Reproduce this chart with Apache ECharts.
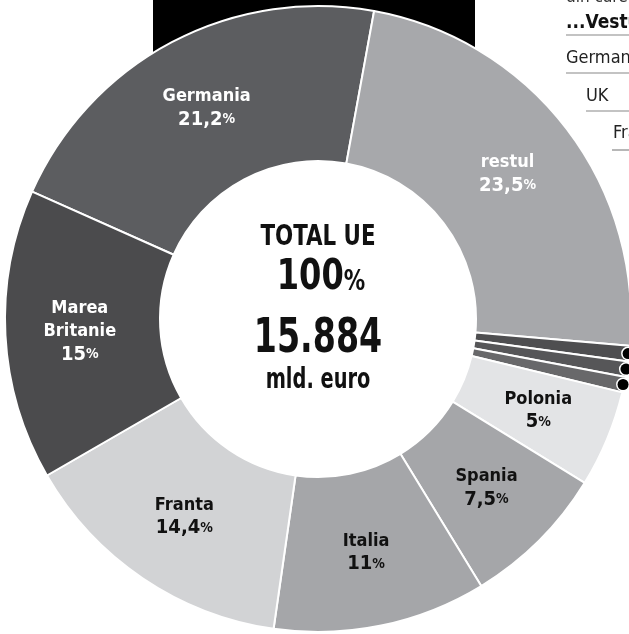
<!DOCTYPE html>
<html>
<head>
<meta charset="utf-8">
<script src="https://cdn.jsdelivr.net/npm/echarts@6/dist/echarts.min.js"></script>
<style>
  html, body { margin: 0; padding: 0; background: #fff; }
  #chart { width: 629px; height: 634px; }
</style>
</head>
<body>
<div id="chart"></div>
<script>
// date: cota fiecarei tari din total UE (%)
const tari = ['Germania', 'restul', 'mic1', 'mic2', 'mic3', 'Polonia', 'Spania', 'Italia', 'Franta', 'Marea\nBritanie']
const procente = [21.2, 23.5, 0.8, 0.8, 0.8, 5, 7.5, 11, 14.4, 15]
const culori = ['#5c5d60', '#a7a8ab', '#4e4e50', '#565658', '#68686a', '#e3e4e6', '#a5a6a9', '#a5a6a9', '#d2d3d5', '#4b4b4d']
const culoriText = ['#fff', '#fff', '', '', '', '#111', '#111', '#111', '#111', '#fff']
const fara = ['mic1', 'mic2', 'mic3'] // felii mici, fara eticheta, doar cu punct

const totalText = ['TOTAL UE', '100', '15.884', 'mld. euro']
const tabel = ['din care', '...Vestu', 'German', 'UK', 'Fra']

const FONT = "'DejaVu Sans Condensed', 'Liberation Sans Narrow', sans-serif"
const CENTRU = [318, 319]

const chart = echarts.init(document.getElementById('chart'))

const dateFelii = tari.map((name, i) => ({
  name,
  value: procente[i],
  itemStyle: {color: culori[i]},
  label: fara.includes(name) ? {show: false} : {show: true, color: culoriText[i]}
}))

// serie suprapusa doar pentru punctele negre de la feliile mici
const datePuncte = tari.map((name, i) => ({
  name,
  value: procente[i],
  label: {show: fara.includes(name)}
}))

const textCentru = (text, y, size, sx) => ({
  type: 'text', z: 10, x: 318, y, scaleX: sx,
  style: {text, x: 0, y: 0, align: 'center', verticalAlign: 'middle', font: `bold ${size}px ` + FONT, fill: '#111'}
})

const option = {
  animation: false,
  graphic: [
    {type: 'rect', z: 0, shape: {x: 153, y: 0, width: 322, height: 54}, style: {fill: '#000'}},
    // textul din dreapta sus (alt grafic, taiat)
    {type: 'text', style: {text: tabel[0], x: 566, y: -11, font: '17px ' + FONT, fill: '#333'}},
    {type: 'text', style: {text: tabel[1], x: 566, y: 14, font: 'bold 19px ' + FONT, fill: '#111'}},
    {type: 'line', shape: {x1: 566, y1: 35, x2: 629, y2: 35}, style: {stroke: '#888', lineWidth: 1.2}},
    {type: 'text', style: {text: tabel[2], x: 566, y: 49, font: '18px ' + FONT, fill: '#222'}},
    {type: 'line', shape: {x1: 566, y1: 73, x2: 629, y2: 73}, style: {stroke: '#888', lineWidth: 1.2}},
    {type: 'text', style: {text: tabel[3], x: 586, y: 87, font: '18px ' + FONT, fill: '#222'}},
    {type: 'line', shape: {x1: 586, y1: 111, x2: 629, y2: 111}, style: {stroke: '#888', lineWidth: 1.2}},
    {type: 'text', style: {text: tabel[4], x: 613, y: 124, font: '18px ' + FONT, fill: '#222'}},
    {type: 'line', shape: {x1: 612, y1: 150, x2: 629, y2: 150}, style: {stroke: '#888', lineWidth: 1.2}},
    // textul din centru
    textCentru(totalText[0], 238, 28, 0.85),
    {
      type: 'text', z: 10, x: 321, y: 278, scaleX: 0.85,
      style: {
        text: `{a|${totalText[1]}}{b|%}`, x: 0, y: 0, align: 'center', verticalAlign: 'middle',
        rich: {
          a: {fontSize: 42, fontWeight: 'bold', fontFamily: FONT, fill: '#111'},
          b: {fontSize: 28, fontWeight: 'bold', fontFamily: FONT, fill: '#111', padding: [10, 0, 0, 0]}
        }
      }
    },
    textCentru(totalText[2], 340, 48, 0.77),
    textCentru(totalText[3], 381, 28, 0.77)
  ],
  series: [
    {
      type: 'pie',
      z: 2,
      center: CENTRU,
      radius: [158, 313],
      startAngle: 156,
      clockwise: true,
      avoidLabelOverlap: false,
      silent: true,
      itemStyle: {borderColor: '#fff', borderWidth: 2},
      label: {
        position: 'inside',
        fontFamily: FONT,
        formatter: (p) => `{n|${p.name}}\n{v|${String(p.value).replace('.', ',')}}{p|%}`,
        rich: {
          n: {fontSize: 18, fontWeight: 'bold', fontFamily: FONT, lineHeight: 23, align: 'center'},
          v: {fontSize: 20, fontWeight: 'bold', fontFamily: FONT, lineHeight: 23},
          p: {fontSize: 14, fontWeight: 'bold', fontFamily: FONT, lineHeight: 23}
        }
      },
      labelLine: {show: false},
      data: dateFelii
    },
    {
      type: 'pie',
      z: 3,
      center: CENTRU,
      radius: [303, 315],
      startAngle: 156,
      clockwise: true,
      avoidLabelOverlap: false,
      silent: true,
      itemStyle: {color: 'rgba(0,0,0,0)', borderWidth: 0},
      label: {
        position: 'inside',
        formatter: '{d|}',
        rich: {
          d: {width: 11, height: 11, borderRadius: 6, backgroundColor: '#000', borderColor: '#fff', borderWidth: 1.5}
        }
      },
      labelLine: {show: false},
      data: datePuncte
    }
  ]
}

option && chart.setOption(option)
</script>
</body>
</html>
